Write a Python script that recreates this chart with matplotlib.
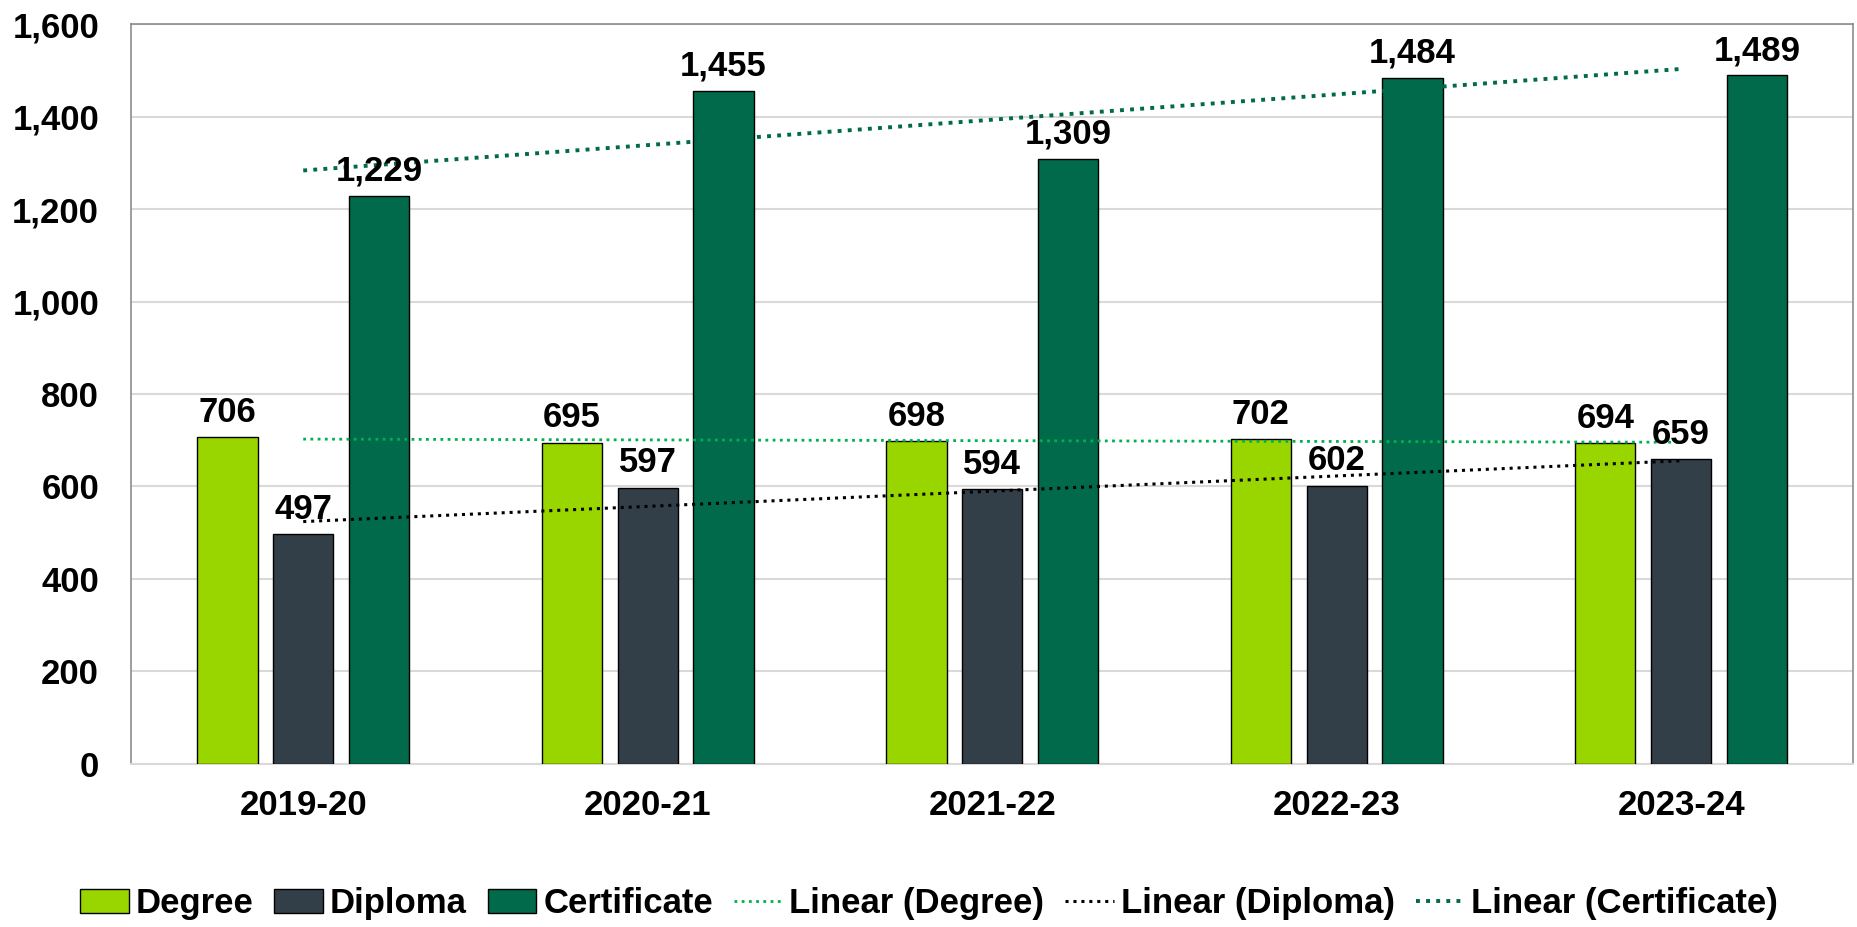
import numpy as np
import matplotlib
matplotlib.use("Agg")
from matplotlib import pyplot as plt
from matplotlib.ticker import FuncFormatter

years = ["2019-20", "2020-21", "2021-22", "2022-23", "2023-24"]
degree = [706, 695, 698, 702, 694]
diploma = [497, 597, 594, 602, 659]
certificate = [1229, 1455, 1309, 1484, 1489]

plt.rcParams['font.family'] = ['Liberation Sans', 'DejaVu Sans']
plt.rcParams['font.weight'] = 'bold'

fig = plt.figure(figsize=(18.58, 9.27), dpi=100)
ax = fig.add_axes([0.0705, 0.176, 0.927, 0.798])

x = np.arange(len(years))
width = 0.175
offset = 0.22

series = [
    ("Degree", degree, "#99D600", "#00B050", 2.0),
    ("Diploma", diploma, "#333F48", "#000000", 2.2),
    ("Certificate", certificate, "#006A4A", "#006A4A", 2.8),
]

bar_handles = []
trend_handles = []
for i, (name, vals, color, tcolor, tlw) in enumerate(series):
    pos = x + (i - 1) * offset
    bars = ax.bar(pos, vals, width, color=color, edgecolor="black",
                  linewidth=1.0, label=name, zorder=3)
    bar_handles.append(bars)
    for p, v in zip(pos, vals):
        ax.annotate(f"{v:,}", (p, v), xytext=(0, 6), textcoords="offset points",
                    ha="center", va="bottom", fontsize=25, fontweight="bold",
                    zorder=5)
    # linear trend like excel
    k, b = np.polyfit(x, vals, 1)
    line, = ax.plot(x, k * x + b, linestyle=(0, (1, 1.6)), color=tcolor,
                    linewidth=tlw, label=f"Linear ({name})", zorder=4)
    trend_handles.append(line)

ax.set_xlim(-0.5, 4.5)
ax.set_ylim(0, 1600)
ax.set_yticks(np.arange(0, 1601, 200))
ax.yaxis.set_major_formatter(FuncFormatter(lambda v, p: f"{int(v):,}"))
ax.set_xticks(x)
ax.set_xticklabels(years)
ax.tick_params(axis="y", length=0, pad=23, labelsize=25)
ax.tick_params(axis="x", length=0, pad=18, labelsize=25)
for lab in ax.get_xticklabels() + ax.get_yticklabels():
    lab.set_fontweight("bold")

ax.grid(axis="y", color="#D9D9D9", linewidth=1.5, zorder=0)
ax.set_axisbelow(True)
for s in ["left", "top", "right"]:
    ax.spines[s].set_color("#8C8C8C")
    ax.spines[s].set_linewidth(1.2)
ax.spines["bottom"].set_color("#D9D9D9")
ax.spines["bottom"].set_linewidth(1.5)

fig.legend(bar_handles + trend_handles,
           [s[0] for s in series] + [f"Linear ({s[0]})" for s in series],
           loc="center", bbox_to_anchor=(0.5, 0.025), ncol=6, frameon=False,
           handlelength=1.4, handletextpad=0.2, columnspacing=0.6,
           prop={"weight": "bold", "size": 25})

plt.savefig("out.png", dpi=100)
